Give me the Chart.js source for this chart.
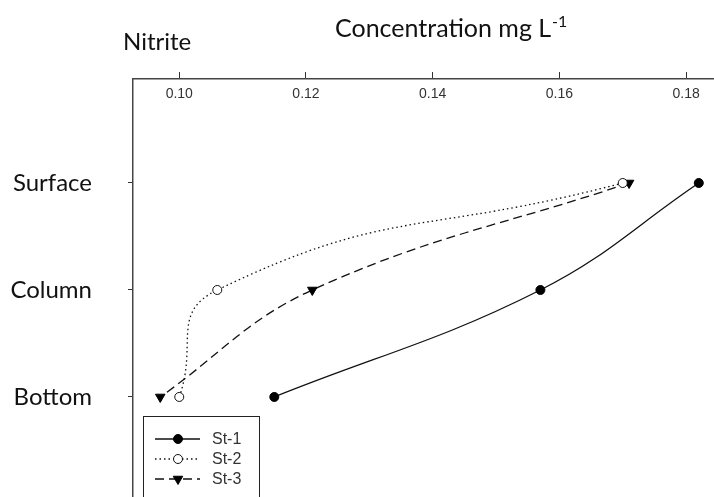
<!DOCTYPE html>
<html>
<head>
<meta charset="utf-8">
<script src="https://cdn.jsdelivr.net/npm/chart.js@4.4.1/dist/chart.umd.min.js"></script>
<style>
  html, body { margin: 0; padding: 0; background: #fff; }
  #wrap { width: 714px; height: 497px; }
</style>
</head>
<body>
<div id="wrap"><canvas id="nitriteChart" width="714" height="497"></canvas></div>
<script>
// Nitrite profile by depth layer (concentration mg/L)
const depths = ["Surface", "Column", "Bottom"];
const st1 = [0.182, 0.157, 0.115];
const st2 = [0.170, 0.106, 0.100];
const st3 = [0.171, 0.121, 0.097];
const xTicks = [0.10, 0.12, 0.14, 0.16, 0.18];

const labelFont = "Lato, 'Open Sans', sans-serif";

function toPoints(values) {
	return values.map((v, i) => ({ x: v, y: i + 1 }));
}

// headings above the axis
const headings = {
	id: "headings",
	afterDraw(chart) {
		const ctx = chart.ctx;
		ctx.save();
		ctx.fillStyle = "#111";
		ctx.textBaseline = "alphabetic";
		ctx.textAlign = "left";
		ctx.font = "24px " + labelFont;
		ctx.fillText("Nitrite", 123, 50);
		ctx.font = "25px " + labelFont;
		ctx.fillText("Concentration mg L", 335, 37);
		const w = ctx.measureText("Concentration mg L").width;
		ctx.font = "16px " + labelFont;
		ctx.fillText("-1", 335 + w + 1, 27);
		ctx.restore();
	}
};

// boxed legend in the lower left corner of the plot
const boxLegend = {
	id: "boxLegend",
	afterDraw(chart) {
		const ctx = chart.ctx;
		const left = 143, top = 416, width = 116;
		ctx.save();
		ctx.strokeStyle = "#222";
		ctx.lineWidth = 1;
		ctx.strokeRect(left + 0.5, top + 0.5, width, 120);
		chart.data.datasets.forEach((ds, i) => {
			const y = 439 + i * 20;
			ctx.strokeStyle = "#111";
			ctx.lineWidth = ds.borderWidth;
			ctx.setLineDash(ds.borderDash || []);
			ctx.beginPath();
			ctx.moveTo(155, y);
			ctx.lineTo(200, y);
			ctx.stroke();
			ctx.setLineDash([]);
			ctx.fillStyle = ds.pointBackgroundColor;
			ctx.strokeStyle = ds.pointBorderColor;
			ctx.lineWidth = 1;
			Chart.helpers.drawPoint(ctx, {
				pointStyle: ds.pointStyle,
				rotation: ds.pointRotation || 0,
				radius: ds.pointRadius,
				borderWidth: 1
			}, 178, y);
			ctx.fillStyle = "#333";
			ctx.font = "16px 'Liberation Sans', Arial, sans-serif";
			ctx.textBaseline = "middle";
			ctx.textAlign = "left";
			ctx.fillText(ds.label, 212, y + 1);
		});
		ctx.restore();
	}
};

const ctx = document.getElementById("nitriteChart").getContext("2d");
new Chart(ctx, {
	type: "line",
	data: {
		datasets: [
			{
				label: "St-1", data: toPoints(st1),
				borderColor: "#111", borderWidth: 1.3, tension: 0.4,
				pointStyle: "circle", pointRadius: 4.5,
				pointBackgroundColor: "#000", pointBorderColor: "#000", pointBorderWidth: 1
			},
			{
				label: "St-2", data: toPoints(st2),
				borderColor: "#111", borderWidth: 1.3, borderDash: [1.5, 3], tension: 0.5,
				pointStyle: "circle", pointRadius: 4.5,
				pointBackgroundColor: "#fff", pointBorderColor: "#111", pointBorderWidth: 1
			},
			{
				label: "St-3", data: toPoints(st3),
				borderColor: "#111", borderWidth: 1.3, borderDash: [9, 5], tension: 0.4,
				pointStyle: "triangle", pointRotation: 180, pointRadius: 5.5,
				pointBackgroundColor: "#000", pointBorderColor: "#000", pointBorderWidth: 1
			}
		]
	},
	options: {
		responsive: false,
		animation: false,
		layout: { padding: 0, autoPadding: false },
		plugins: {
			legend: { display: false },
			tooltip: { enabled: false }
		},
		scales: {
			x: {
				type: "linear",
				position: "top",
				min: 0.0927,
				max: 0.1844,
				afterFit: s => { s.height = 79; s.paddingLeft = 0; s.paddingRight = 0; },
				afterBuildTicks: s => { s.ticks = xTicks.map(v => ({ value: v })); },
				ticks: {
					mirror: true,
					padding: 7,
					color: "#333",
					font: { family: "'Liberation Sans', Arial, sans-serif", size: 14 },
					callback: v => v.toFixed(2)
				},
				grid: { drawOnChartArea: false, drawTicks: true, tickLength: 7, tickColor: "#333" },
				border: { display: true, color: "#444", width: 1.5 }
			},
			y: {
				type: "linear",
				reverse: true,
				min: 0.028,
				max: 3.935,
				afterFit: s => { s.width = 133; s.paddingTop = 0; s.paddingBottom = 0; },
				afterBuildTicks: s => { s.ticks = depths.map((d, i) => ({ value: i + 1 })); },
				ticks: {
					padding: 36,
					color: "#111",
					font: { family: labelFont, size: 24 },
					callback: v => depths[v - 1]
				},
				grid: { drawOnChartArea: false, drawTicks: true, tickLength: 5, tickColor: "#333" },
				border: { display: true, color: "#444", width: 1.5 }
			}
		}
	},
	plugins: [headings, boxLegend]
});
</script>
</body>
</html>
